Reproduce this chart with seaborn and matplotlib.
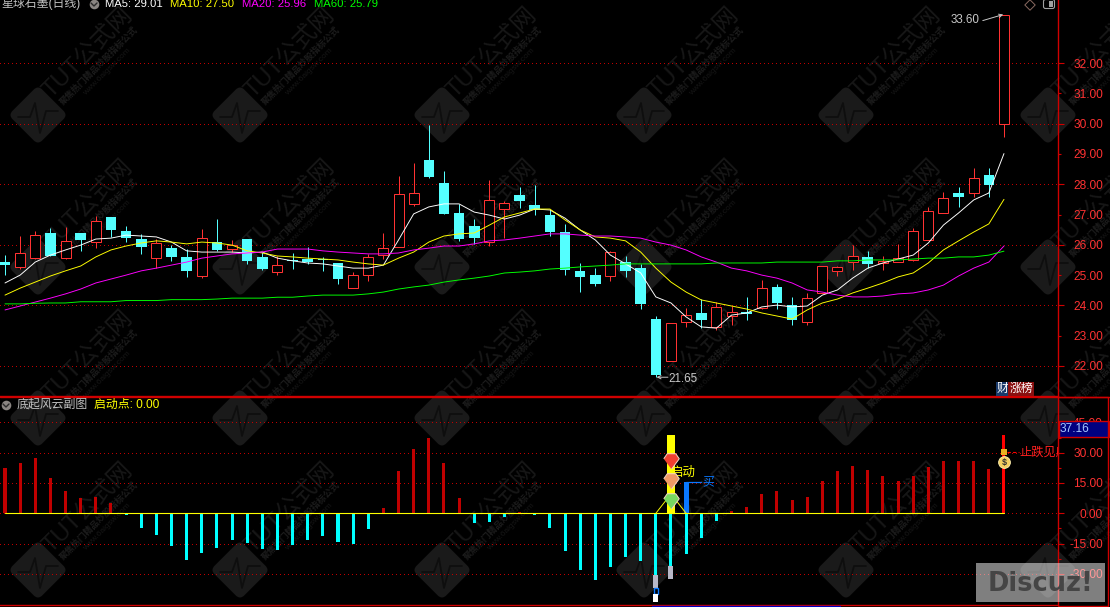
import matplotlib
matplotlib.use("Agg")
import matplotlib.pyplot as plt
from matplotlib.patches import FancyBboxPatch, Rectangle
from matplotlib.transforms import Affine2D
import numpy as np
import pandas as pd
import seaborn as sns

# daily candles
opens = [25.43, 25.27, 25.56, 26.39, 25.56, 26.39, 26.09, 26.92, 26.46, 26.19, 25.56, 25.89, 25.60, 24.97, 26.09, 25.86, 26.19,
         25.60, 25.10, 25.50, 25.53, 25.52, 25.40, 24.57, 25.00, 25.66, 25.93, 27.35, 28.80, 28.04, 27.05, 26.62, 26.09, 27.18,
         27.64, 27.31, 26.98, 26.42, 25.14, 25.00, 24.97, 25.43, 25.23, 23.55, 22.17, 23.45, 23.75, 23.29, 23.65, 23.78, 23.91,
         24.61, 24.01, 23.45, 24.41, 25.14, 25.43, 25.60, 25.40, 25.43, 25.50, 26.16, 27.05, 27.71, 27.71, 28.30, 29.99]
closes = [25.33, 25.73, 26.32, 25.63, 26.13, 26.16, 26.79, 26.49, 26.22, 25.93, 26.06, 25.60, 25.14, 26.22, 25.83, 25.99, 25.47,
          25.20, 25.33, 25.47, 25.43, 25.49, 24.87, 25.00, 25.60, 25.89, 27.68, 27.71, 28.24, 27.02, 26.19, 26.22, 27.48, 27.38,
          27.45, 27.15, 26.42, 25.17, 24.94, 24.71, 25.76, 25.14, 24.05, 21.70, 23.42, 23.68, 23.52, 23.95, 23.78, 23.72, 24.57,
          24.08, 23.52, 24.24, 25.30, 25.27, 25.63, 25.37, 25.47, 25.56, 26.46, 27.12, 27.54, 27.58, 28.20, 27.97, 33.58]
highs = [25.66, 26.29, 26.46, 26.55, 26.59, 26.39, 26.95, 26.92, 26.62, 26.36, 26.19, 25.99, 25.86, 26.52, 26.85, 26.16, 26.19,
         25.76, 25.63, 25.73, 25.93, 25.60, 25.40, 25.10, 25.70, 26.39, 28.27, 28.70, 29.95, 28.44, 27.35, 26.85, 28.14, 27.45,
         27.91, 27.97, 27.15, 26.69, 25.40, 25.23, 25.80, 25.63, 25.37, 23.65, 23.42, 23.91, 24.21, 24.11, 23.98, 24.28, 24.84,
         24.71, 24.28, 24.41, 25.30, 25.30, 25.99, 25.80, 25.63, 26.03, 26.55, 27.25, 27.74, 27.91, 28.53, 28.53, 33.60]
lows = [25.00, 25.20, 25.53, 25.63, 25.53, 25.80, 25.89, 26.26, 26.09, 25.70, 25.23, 25.47, 24.94, 24.90, 25.80, 25.76, 25.37,
        25.17, 25.00, 25.20, 25.37, 25.14, 24.71, 24.57, 24.80, 25.53, 25.93, 27.28, 28.20, 27.02, 26.13, 26.03, 25.96, 26.22,
        27.21, 26.98, 26.29, 25.00, 24.44, 24.64, 24.80, 24.94, 23.88, 21.65, 22.17, 23.29, 23.25, 23.19, 23.35, 23.52, 23.88,
        23.88, 23.35, 23.35, 24.41, 24.97, 25.17, 25.23, 25.17, 25.43, 25.47, 26.16, 27.05, 27.25, 27.58, 27.58, 29.56]

ma5 = [24.74, 25.00, 25.43, 25.66, 25.83, 25.99, 26.19, 26.22, 26.32, 26.29, 26.26, 26.09, 25.80, 25.76, 25.76, 25.76, 25.73,
       25.76, 25.56, 25.47, 25.40, 25.37, 25.30, 25.23, 25.23, 25.33, 26.16, 27.02, 27.25, 27.35, 27.35, 27.08, 26.98, 26.85,
       26.98, 27.18, 27.15, 26.88, 26.49, 26.16, 25.66, 25.37, 25.07, 24.28, 24.08, 23.62, 23.29, 23.25, 23.68, 23.75, 23.95,
       24.01, 23.95, 23.98, 24.34, 24.51, 24.90, 25.23, 25.40, 25.53, 25.66, 26.06, 26.65, 27.05, 27.48, 27.71, 29.01]
ma10 = [24.34, 24.57, 24.77, 24.97, 25.14, 25.30, 25.60, 25.83, 25.96, 26.06, 26.13, 26.09, 26.03, 26.09, 26.06, 25.99, 25.80,
        25.73, 25.63, 25.60, 25.56, 25.53, 25.50, 25.43, 25.37, 25.33, 25.56, 25.76, 26.09, 26.29, 26.36, 26.39, 26.65, 26.92,
        27.05, 27.18, 27.18, 26.82, 26.49, 26.26, 26.22, 26.13, 25.76, 25.23, 24.77, 24.44, 24.18, 24.08, 23.98, 23.88, 23.75,
        23.65, 23.55, 23.85, 24.08, 24.21, 24.41, 24.57, 24.74, 24.94, 25.07, 25.40, 25.83, 26.13, 26.42, 26.69, 27.50]
ma20 = [23.85, 23.98, 24.11, 24.24, 24.38, 24.54, 24.74, 24.87, 25.00, 25.14, 25.23, 25.33, 25.43, 25.56, 25.63, 25.70, 25.73,
        25.76, 25.86, 25.86, 25.86, 25.80, 25.76, 25.73, 25.70, 25.70, 25.73, 25.83, 25.89, 25.96, 25.96, 26.03, 26.13, 26.16,
        26.22, 26.29, 26.36, 26.36, 26.32, 26.29, 26.29, 26.26, 26.22, 26.09, 25.99, 25.83, 25.60, 25.43, 25.23, 25.14, 25.00,
        24.90, 24.74, 24.51, 24.44, 24.34, 24.28, 24.28, 24.31, 24.38, 24.41, 24.51, 24.67, 24.97, 25.23, 25.43, 25.96]
ma60 = [24.05, 24.05, 24.07, 24.08, 24.08, 24.12, 24.12, 24.12, 24.16, 24.16, 24.16, 24.19, 24.19, 24.19, 24.21, 24.24, 24.24,
        24.24, 24.27, 24.27, 24.31, 24.34, 24.34, 24.34, 24.38, 24.44, 24.54, 24.61, 24.67, 24.77, 24.84, 24.90, 24.97, 25.07,
        25.10, 25.14, 25.20, 25.23, 25.27, 25.30, 25.33, 25.37, 25.37, 25.37, 25.37, 25.37, 25.37, 25.40, 25.40, 25.40, 25.40,
        25.43, 25.43, 25.43, 25.43, 25.47, 25.47, 25.50, 25.50, 25.50, 25.53, 25.56, 25.56, 25.60, 25.60, 25.66, 25.79]

# sub chart histogram
osc = [22.4, 24.9, 27.4, 17.5, 11.1, 7.6, 8.1, 5.1, -0.8, -7.3, -10.7, -16.2, -23.1, -19.6, -17.2, -13.2, -14.7,
       -17.7, -18.2, -15.7, -13.2, -11.2, -14.2, -15.2, -7.8, 2.6, 21.0, 31.8, 37.3, 24.9, 7.6, -4.8, -4.3, -1.8,
       0.5, -0.8, -7.3, -18.6, -28.1, -33.0, -26.6, -21.6, -23.6, -30.5, -26.0, -20.1, -12.2, -3.8, 1.2, 3.1, 9.6,
       11.1, 6.6, 8.1, 16.0, 21.0, 23.4, 21.5, 18.5, 16.0, 18.5, 22.9, 25.9, 25.9, 25.9, 21.9, 38.8]
start_day = 44
start_top = 38.8
buy_day = 45
buy_top = 15.3
signal_days = [43, 44, 45]
signal_vals = [0.0, 9.6, 0.0]
gem_vals = [25.9, 16.0, 6.1]
gem_colors = ["#f04030", "#f09a66", "#78d860"]

price_ticks = [32, 30, 28, 26, 24, 22]
price_minor = [31, 29, 27, 25, 23]
osc_ticks = [45, 30, 15, 0, -15, -30]
osc_minor = [37.5, 22.5, 7.5, -7.5, -22.5, -37.5]

RED = "#ff3232"
CYAN = "#54ffff"
FRAME = "#d00000"
GRID = "#c00000"
DOTS = (0, (1, 3))

sns.set_theme(style="dark", rc={"axes.facecolor": "none", "figure.facecolor": "black",
                                "axes.edgecolor": FRAME, "axes.grid": False})
plt.rcParams["font.family"] = ["Liberation Sans", "Noto Sans CJK SC", "DejaVu Sans"]

W, H = 1110, 607
fig = plt.figure(figsize=(W / 100, H / 100), dpi=100, facecolor="black")
bg = fig.add_axes([0, 0, 1, 1], zorder=0)
ax = fig.add_axes([0, (H - 396) / H, 1058 / W, 396 / H], zorder=1)
low = fig.add_axes([0, (H - 605) / H, 1058 / W, 208 / H], zorder=1)
ov = fig.add_axes([0, 0, 1, 1], zorder=5)
for a in (bg, ov):
    a.set_xlim(0, W)
    a.set_ylim(H, 0)
    a.axis("off")

# site watermark, tiled behind everything
for cx in range(38, 1100, 202):
    for cy in (115, 267, 418, 570):
        rot = Affine2D().rotate_deg_around(cx, cy, 45) + bg.transData
        bg.add_patch(FancyBboxPatch((cx - 16, cy - 16), 32, 32, boxstyle="round,pad=5,rounding_size=6",
                                    fc="#1a1a1a", ec="none", transform=rot))
        bg.plot([cx - 20, cx - 8, cx - 3, cx + 2, cx + 8, cx + 20],
                [cy + 2, cy + 2, cy - 12, cy + 18, cy - 4, cy - 4], color="#0e0e0e", lw=1.3)
        bg.text(cx + 50, cy - 62, "TUT公式网", color="#171717", fontsize=17,
                rotation=45, ha="center", va="center", rotation_mode="anchor")
        bg.text(cx + 61, cy - 49, "聚焦热门精品炒股指标公式", color="#1c1c1c", fontsize=6.4, fontweight="bold",
                rotation=45, ha="center", va="center", rotation_mode="anchor")
        bg.text(cx + 69, cy - 43, "www.6aigsw.com", color="#161616", fontsize=6,
                rotation=45, ha="center", va="center", rotation_mode="anchor")

# candles, one pixel strokes
THIN = 0.72
days = np.arange(len(opens))
o, c, hi, lo = map(np.array, (opens, closes, highs, lows))
up = c >= o
ax.vlines(days[up], lo[up], hi[up], color=RED, lw=THIN, zorder=2)
ax.vlines(days[~up], lo[~up], hi[~up], color=CYAN, lw=THIN, zorder=2)
ax.bar(days[up], (c - o)[up], bottom=o[up], width=0.66, facecolor="black", edgecolor=RED, linewidth=THIN, zorder=3)
ax.bar(days[~up], (o - c)[~up], bottom=c[~up], width=0.7, color=CYAN, linewidth=0, antialiased=False, zorder=3)

ma_df = pd.DataFrame({"day": days, "MA5": ma5, "MA10": ma10, "MA20": ma20, "MA60": ma60})
ma_long = ma_df.melt(id_vars="day", var_name="line", value_name="price")
sns.lineplot(data=ma_long, x="day", y="price", hue="line", estimator=None, linewidth=0.68,
             ax=ax, legend=False, zorder=4,
             palette={"MA5": "#ffffff", "MA10": "#ffff00", "MA20": "#ff00ff", "MA60": "#00ff00"})

# histogram
osc_df = pd.DataFrame({"day": days, "value": osc})
osc_df["kind"] = np.where(osc_df["value"] >= 0, "up", "down")
osc_df.loc[osc_df.index[-1], "kind"] = "last"
sns.barplot(data=osc_df, x="day", y="value", hue="kind", native_scale=True, dodge=False, width=0.2, saturation=1,
            linewidth=0, antialiased=False, legend=False, ax=low, zorder=3,
            palette={"up": "#c00000", "down": "#00ffff", "last": "#ff0000"})
sns.barplot(x=[start_day], y=[start_top], native_scale=True, width=0.58, color="#ffff00", saturation=1, linewidth=0,
            antialiased=False, ax=low, zorder=4)
sns.barplot(x=[buy_day], y=[buy_top], native_scale=True, width=0.33, color="#0a78ff", saturation=1, linewidth=0,
            antialiased=False, ax=low, zorder=4)
sns.lineplot(x=[0, len(osc) - 1], y=[0, 0], color="#ffff00", linewidth=0.8, ax=low, zorder=5)
sns.lineplot(x=signal_days, y=signal_vals, color="#ffff00", linewidth=0.68, ax=low, zorder=5)

# blocks hanging under the two low bars
low.bar(43, -6.6, bottom=-30.5, width=0.33, color="#b8b8c8", linewidth=0, zorder=6)
low.bar(43, -2.9, bottom=-37.1, width=0.3, facecolor="black", edgecolor="#0a78ff", linewidth=1, zorder=6)
low.bar(43, -3.7, bottom=-40.0, width=0.33, color="#ffffff", linewidth=0, zorder=6)
low.bar(44, -6.5, bottom=-26.0, width=0.33, color="#b8b8c8", linewidth=0, zorder=6)

gem = [(-1, 0.35), (-0.55, 1), (0.55, 1), (1, 0.35), (0, -1)]
for val, col in zip(gem_vals, gem_colors):
    low.scatter(start_day, val, marker=gem, s=125, color=col, edgecolor="#f4d8c8", linewidth=0.7, zorder=8)
low.text(44.0, 20.2, "启动", color="#ffff00", fontsize=9, va="center", ha="left", zorder=7)
low.plot([45, 46.0], [15.3, 15.3], color="#0a78ff", lw=0.9, zorder=6)
low.text(46.1, 15.2, "买", color="#0a78ff", fontsize=8.6, va="center", ha="left", zorder=7)
low.plot([66.2, 67.0], [30.3, 30.3], color="#ff0000", lw=0.8, ls=(0, (3, 2)), zorder=6)
low.text(67.03, 30.0, "止跌见底", color="#ff2020", fontsize=8.8, va="center", ha="left", clip_on=True, zorder=7)
low.scatter(66, 25.4, s=72, color="#f4d060", edgecolor="#fff0b0", linewidth=0.6, zorder=8)
low.scatter(66, 30.2, s=14, marker="s", color="#e8b020", linewidth=0, zorder=8)
low.text(66, 25.0, "$", color="#303030", fontsize=6.5, fontweight="bold", ha="center", va="center", zorder=9)

# price high / low notes
ax.text(62.5, 33.42, "33.60", color="#c8c8c8", fontsize=8.4, ha="left", va="center", zorder=6)
ax.annotate("", xy=(65.95, 33.6), xytext=(64.6, 33.4), zorder=6,
            arrowprops=dict(arrowstyle="->", color="#c8c8c8", lw=0.7, shrinkA=0, shrinkB=0, mutation_scale=6))
ax.text(43.85, 21.58, "21.65", color="#c8c8c8", fontsize=8.4, ha="left", va="center", zorder=6)
ax.annotate("", xy=(43.05, 21.63), xytext=(43.8, 21.63), zorder=6,
            arrowprops=dict(arrowstyle="->", color="#c8c8c8", lw=0.7, shrinkA=0, shrinkB=0, mutation_scale=6))

# axes
xlim = (-5 / 15.136, 1053 / 15.136)
ax.set_ylim(22 - 30 / 30.3, 22 + 366 / 30.3)
low.set_ylim((513.3 - 605) / 2.02, (513.3 - 397) / 2.02)
tick_sets = ((ax, price_ticks, price_minor, True), (low, osc_ticks, osc_minor, False))
for a, major, minor, label_minor in tick_sets:
    a.set_xlim(xlim)
    a.set_xlabel("")
    a.set_ylabel("")
    a.set_xticks([])
    a.set_axisbelow(True)
    a.yaxis.tick_right()
    a.set_yticks(major, labels=[f"{v:.2f}" for v in major])
    if label_minor:
        a.set_yticks(minor, labels=[f"{v:.2f}" for v in minor], minor=True)
    else:
        a.set_yticks(minor, minor=True)
    a.tick_params(axis="y", which="major", right=True, left=False, length=4.3, width=0.8, color=FRAME,
                  labelcolor=RED, labelsize=8.6, pad=28)
    a.tick_params(axis="y", which="minor", right=True, left=False, length=2.2, width=0.8, color=FRAME,
                  labelcolor=RED, labelsize=8.6, pad=30.1)
    plt.setp(a.get_yticklabels(which="both"), ha="right")
    a.grid(True, axis="y", which="major", color=GRID, lw=0.72, ls=DOTS)
    a.grid(False, axis="y", which="minor")
    for gl in a.get_ygridlines():
        gl.set_antialiased(False)
    for name, spine in a.spines.items():
        spine.set_visible(name in ("right", "bottom"))
        spine.set_color(FRAME)
        spine.set_linewidth(1.0)

# frame pieces to the right of the chart and the header rows
ov.plot([0, W], [396.5, 396.5], color=FRAME, lw=1)
ov.plot([1058, 1108, 1108, 1058], [397, 397, 605.5, 605.5], color=FRAME, lw=1)
ov.plot([652, 840], [605.5, 605.5], color="#0000c0", lw=1)
ov.add_patch(Rectangle((1059, 421), 49.5, 16, fc="#000080", ec=FRAME, lw=1))
ov.text(1060, 429.5, "37.16", color="#a8c8ff", fontsize=8.6, va="center", ha="left")

ov.text(1, 4, "星球石墨(日线)", color="#c0c0c0", fontsize=8.6, va="center", ha="left")
ov.text(105, 4, "MA5: 29.01", color="#ffffff", fontsize=8.1, va="center", ha="left")
ov.text(170, 4, "MA10: 27.50", color="#ffff00", fontsize=8.1, va="center", ha="left")
ov.text(242, 4, "MA20: 25.96", color="#ff00ff", fontsize=8.1, va="center", ha="left")
ov.text(314, 4, "MA60: 25.79", color="#00ff00", fontsize=8.1, va="center", ha="left")
ov.text(17, 405, "底起风云副图", color="#c0c0c0", fontsize=8.6, va="center", ha="left")
ov.text(94, 405, "启动点: 0.00", color="#ffff00", fontsize=8.6, va="center", ha="left")
for ix, iy in ((94, 4), (6, 405)):
    ov.scatter(ix, iy, s=48, color="#8a8582", linewidth=0)
    ov.plot([ix - 3, ix, ix + 3], [iy - 1, iy + 2, iy - 1], color="#2a2a2a", lw=1)

ov.scatter(1030, 5, s=28, marker="D", facecolor="none", edgecolor="#8a6a60", linewidth=0.7)
ov.add_patch(FancyBboxPatch((1044, 0), 10, 8, boxstyle="round,pad=0.5,rounding_size=2", fc="none", ec="#a0a0a0", lw=0.8))
ov.add_patch(Rectangle((1049, 1), 4, 6, fc="#a0a0a0", ec="none"))

ov.text(1003, 389, "财", color="#ffffff", fontsize=8.6, va="center", ha="center",
        bbox=dict(boxstyle="square,pad=0.08", fc="#1a3a6a", ec="none"))
ov.text(1021, 389, "涨榜", color="#ffffff", fontsize=8.6, va="center", ha="center",
        bbox=dict(boxstyle="square,pad=0.08", fc="#8a1010", ec="none"))

# forum stamp, bottom right corner
ov.add_patch(Rectangle((976, 563), 129, 39, fc="#ffffff", ec="none", alpha=0.5))
ov.text(1040, 584, "Discuz!", color="#454545", fontsize=18.5, fontweight="bold", family="DejaVu Sans",
        va="center", ha="center")

fig.savefig("out.png", dpi=100, facecolor="black")
